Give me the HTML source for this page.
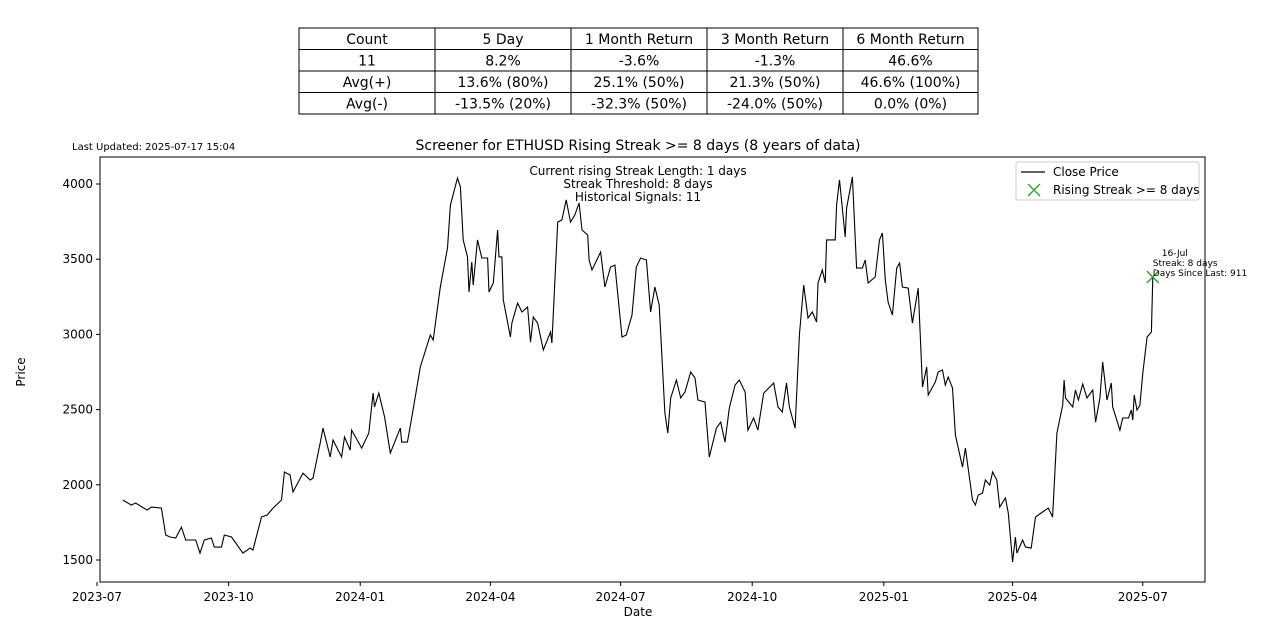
<!DOCTYPE html>
<html><head><meta charset="utf-8"><style>
body{margin:0;background:#fff;font-family:"Liberation Sans","DejaVu Sans",sans-serif;}
svg text{font-family:"DejaVu Sans","Liberation Sans",sans-serif;}
</style></head><body>
<svg width="1280" height="628" viewBox="0 0 1280 628" xmlns="http://www.w3.org/2000/svg">
<g id="table"></g>
<text x="72" y="150" font-size="10">Last Updated: 2025-07-17 15:04</text>
<text x="638" y="150" font-size="14" text-anchor="middle">Screener for ETHUSD Rising Streak &gt;= 8 days (8 years of data)</text>
<rect x="100" y="157" width="1105" height="425" fill="none" stroke="#000" stroke-width="1"/>
<g id="axes"></g>
<path id="line" fill="none" stroke="#000" stroke-width="1.1"/>
<g id="marks"></g>
<text x="638" y="175" font-size="12" text-anchor="middle">Current rising Streak Length: 1 days</text>
<text x="638" y="188" font-size="12" text-anchor="middle">Streak Threshold: 8 days</text>
<text x="638" y="201" font-size="12" text-anchor="middle">Historical Signals: 11</text>
<g>
<rect x="1016" y="162" width="183" height="38" fill="#fff" stroke="#ccc" rx="2"/>
<line x1="1021" y1="172" x2="1045" y2="172" stroke="#000" stroke-width="1.2"/>
<text x="1053" y="176" font-size="12">Close Price</text>
<path d="M1028 184 L1040 196 M1040 184 L1028 196" stroke="#2ca02c" stroke-width="1.3"/>
<text x="1053" y="194" font-size="12">Rising Streak &gt;= 8 days</text>
</g>
<text x="25" y="372" font-size="12" text-anchor="middle" transform="rotate(-90 25 372)">Price</text>
<text x="638" y="616" font-size="12" text-anchor="middle">Date</text>
</svg>
<script>
const tableHeaders=["Count","5 Day","1 Month Return","3 Month Return","6 Month Return"];
const tableRow1=["11","8.2%","-3.6%","-1.3%","46.6%"];
const tableRow2=["Avg(+)","13.6% (80%)","25.1% (50%)","21.3% (50%)","46.6% (100%)"];
const tableRow3=["Avg(-)","-13.5% (20%)","-32.3% (50%)","-24.0% (50%)","0.0% (0%)"];
const days=[18,24,27,35,38,45,48,51,55,59,62,69,72,75,80,82,87,89,94,102,107,109,115,119,123,129,131,135,137,144,149,151,156,158,163,165,171,173,177,178,185,190,193,194,197,201,205,212,213,217,220,226,233,235,240,245,247,252,254,256,259,260,262,263,266,269,273,274,277,280,281,283,284,289,290,294,297,301,303,305,308,312,317,318,322,325,328,331,334,337,339,343,344,346,352,355,359,362,367,370,374,377,380,384,387,390,393,397,399,401,405,408,411,415,418,420,425,428,433,436,439,442,446,449,453,455,459,462,466,473,476,479,482,484,488,491,494,497,500,503,504,507,509,510,516,517,519,523,524,528,531,535,537,539,544,547,549,551,553,556,559,561,563,567,570,574,577,580,581,586,588,591,593,595,598,600,605,607,612,614,616,619,621,624,626,629,631,635,637,640,642,643,647,649,653,656,661,665,668,671,675,676,677,682,684,686,689,692,696,698,701,703,706,709,710,715,717,721,723,724,725,727,729,731,734,737,738];
const prices=[1899,1865,1879,1832,1852,1845,1666,1653,1646,1719,1633,1633,1546,1633,1646,1586,1586,1666,1653,1546,1579,1566,1786,1799,1845,1899,2085,2065,1952,2078,2032,2045,2278,2377,2185,2298,2185,2318,2231,2364,2244,2344,2610,2517,2610,2451,2211,2377,2284,2284,2444,2783,2996,2963,3315,3574,3860,4040,3980,3628,3515,3282,3481,3328,3628,3508,3508,3282,3342,3694,3515,3515,3229,2983,3076,3209,3149,3182,2949,3116,3076,2896,3016,2943,3747,3761,3894,3747,3794,3874,3694,3661,3495,3428,3548,3315,3448,3461,2983,2996,3129,3448,3508,3495,3149,3315,3195,2477,2344,2577,2697,2577,2617,2750,2710,2564,2550,2185,2377,2417,2284,2510,2663,2697,2617,2364,2444,2364,2610,2677,2517,2484,2677,2517,2377,2996,3328,3109,3149,3082,3342,3428,3342,3628,3628,3860,4027,3648,3840,4047,3441,3441,3495,3342,3382,3628,3674,3362,3215,3129,3441,3475,3315,3308,3076,3308,2650,2783,2597,2683,2750,2763,2663,2717,2643,2331,2118,2244,1899,1865,1932,1945,2032,1998,2085,2032,1852,1912,1812,1486,1653,1546,1633,1586,1579,1786,1819,1845,1786,2344,2530,2697,2577,2517,2630,2564,2670,2577,2630,2417,2577,2816,2564,2677,2517,2364,2444,2444,2497,2431,2597,2497,2530,2743,2983,3016,3382];
const signalDays=[738];
const signalPrices=[3382];
const yTicks=[1500,2000,2500,3000,3500,4000];
const xTickDays=[0,92,184,275,366,458,550,640,731];
const xTickLabels=["2023-07","2023-10","2024-01","2024-04","2024-07","2024-10","2025-01","2025-04","2025-07"];
const NS="http://www.w3.org/2000/svg";
function xs(d){return 97+d*1.4306;}
function ys(p){return 184+(4000-p)*0.1504;}
function mk(tag,attrs,parent,txt){const e=document.createElementNS(NS,tag);for(const k in attrs)e.setAttribute(k,attrs[k]);if(txt!==undefined)e.textContent=txt;parent.appendChild(e);return e;}
// table
const tg=document.getElementById('table');
const colX=[299,435,571,707,843,978];
const rows=[tableHeaders,tableRow1,tableRow2,tableRow3];
rows.forEach((r,ri)=>{r.forEach((c,ci)=>{
 const y0=28+ri*21.5;
 const rc=mk('rect',{x:colX[ci],y:y0,width:colX[ci+1]-colX[ci],height:21.5,fill:'#fff',stroke:'#000','stroke-width':1},tg);
 
 
 const t=mk('text',{x:(colX[ci]+colX[ci+1])/2,y:y0+16,'font-size':14,'text-anchor':'middle'},tg,c);
 
 
});});
// axes
const ag=document.getElementById('axes');
yTicks.forEach(v=>{const y=ys(v);
 const l=mk('line',{x1:96,x2:100,y1:y,y2:y,stroke:'#000'},ag);
 
 
 const t=mk('text',{x:93,y:y+4,'font-size':12,'text-anchor':'end'},ag,String(v));
 
 
});
xTickDays.forEach((d,i)=>{const x=xs(d);
 const l=mk('line',{x1:x,x2:x,y1:582,y2:586,stroke:'#000'},ag);
 
 
 const t=mk('text',{x:x,y:601,'font-size':12,'text-anchor':'middle'},ag,xTickLabels[i]);
 
 
});
// line
document.getElementById('line').setAttribute('d',days.map((d,i)=>(i?'L':'M')+xs(d).toFixed(1)+' '+ys(prices[i]).toFixed(1)).join(' '));
// signals
const mg=document.getElementById('marks');
signalDays.forEach((d,i)=>{const x=xs(d),y=ys(signalPrices[i]);
 const p=mk('path',{d:`M${x-6} ${y-6} L${x+6} ${y+6} M${x+6} ${y-6} L${x-6} ${y+6}`,stroke:'#2ca02c','stroke-width':1.4},mg);
 
 
 ['16-Jul','Streak: 8 days','Days Since Last: 911'].forEach((s,j)=>{
  const t=mk('text',{x:j===0?x+9:x,y:y-21+j*10,'font-size':9},mg,s);
  
  
 });
});
</script>
</body></html>
